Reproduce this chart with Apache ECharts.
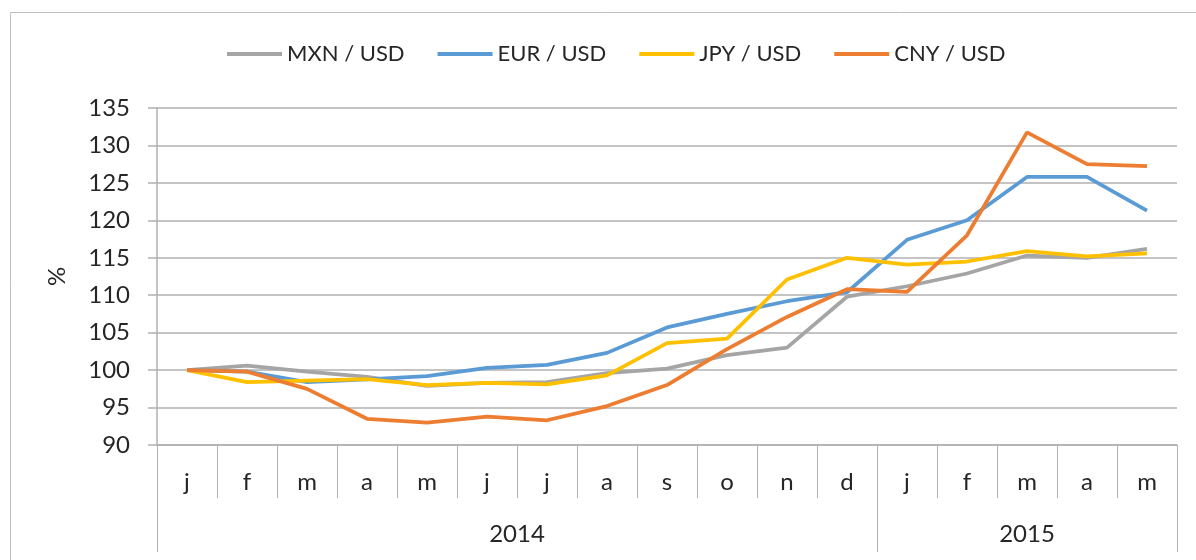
<!DOCTYPE html>
<html>
<head>
<meta charset="utf-8">
<script src="https://cdn.jsdelivr.net/npm/echarts@6/dist/echarts.min.js"></script>
<style>
  html, body { margin: 0; padding: 0; background: #fff; }
  #chart { width: 1196px; height: 560px; }
</style>
</head>
<body>
<div id="chart"></div>
<script>
var months = ['j', 'f', 'm', 'a', 'm', 'j', 'j', 'a', 's', 'o', 'n', 'd', 'j', 'f', 'm', 'a', 'm'];
var years = ['2014', '2015'];
var monthsPerYear = [12, 5];

var mxn = [100, 100.6, 99.8, 99.1, 97.9, 98.3, 98.4, 99.6, 100.2, 102.0, 103.0, 109.8, 111.2, 112.9, 115.3, 115.0, 116.2];
var eur = [100, 99.8, 98.4, 98.75, 99.2, 100.3, 100.7, 102.3, 105.7, 107.5, 109.2, 110.4, 117.4, 120.0, 125.8, 125.8, 121.3];
var jpy = [100, 98.4, 98.6, 98.8, 98.0, 98.3, 98.1, 99.3, 103.6, 104.2, 112.1, 115.0, 114.1, 114.5, 115.9, 115.2, 115.6];
var cny = [100, 99.8, 97.5, 93.5, 93.0, 93.8, 93.3, 95.2, 98.0, 102.8, 107.1, 110.8, 110.45, 118.0, 131.75, 127.5, 127.25];

var names = ['MXN / USD', 'EUR / USD', 'JPY / USD', 'CNY / USD'];
var colors = ['#a5a5a5', '#5b9bd5', '#ffc000', '#ed7d31'];

// year row: half-month points, label at the middle of each year, ticks at year edges
var yearSlots = [];
var yearEdges = [0];
var yearMids = [];
var pos = 0;
for (var i = 0; i < years.length; i++) {
    yearMids.push(pos + monthsPerYear[i]);
    pos += monthsPerYear[i] * 2;
    yearEdges.push(pos);
}
for (var k = 0; k <= pos; k++) {
    var idx = yearMids.indexOf(k);
    yearSlots.push(idx >= 0 ? years[idx] : '');
}

var font = 'Lato, "Open Sans", sans-serif';
var txt = '#262626';
var lineGray = '#b0b0b0';

var chart = echarts.init(document.getElementById('chart'));

var option = {
    animation: false,
    color: colors,
    graphic: [{
        type: 'rect',
        shape: { x: 10.5, y: 12.5, width: 1200, height: 600 },
        style: { fill: 'none', stroke: '#c0c0c0', lineWidth: 1 },
        silent: true
    }],
    legend: {
        data: names,
        left: 222,
        top: 38,
        icon: 'rect',
        itemWidth: 55,
        itemHeight: 4,
        itemGap: 33,
        textStyle: { fontFamily: font, fontSize: 22, color: txt }
    },
    grid: { left: 157, right: 19, top: 108, bottom: 115 },
    xAxis: [
        {
            type: 'category',
            data: months,
            position: 'bottom',
            boundaryGap: true,
            axisLine: { show: true, lineStyle: { color: lineGray, width: 1.5 } },
            axisTick: { show: true, interval: 0, length: 53, lineStyle: { color: lineGray, width: 1 } },
            axisLabel: {
                interval: 0, margin: 37, verticalAlign: 'middle',
                fontFamily: font, fontSize: 24, color: txt
            },
            splitLine: { show: false }
        },
        {
            type: 'category',
            data: yearSlots,
            position: 'bottom',
            boundaryGap: false,
            axisLine: { show: false },
            axisTick: {
                show: true, length: 107,
                interval: function (index) { return yearEdges.indexOf(index) >= 0; },
                lineStyle: { color: lineGray, width: 1 }
            },
            axisLabel: {
                interval: function (index) { return yearMids.indexOf(index) >= 0; },
                margin: 89, verticalAlign: 'middle',
                fontFamily: font, fontSize: 24, color: txt
            },
            splitLine: { show: false }
        }
    ],
    yAxis: {
        type: 'value',
        min: 90,
        max: 135,
        interval: 5,
        name: '%',
        nameLocation: 'middle',
        nameGap: 88,
        nameRotate: 90,
        nameTextStyle: { fontFamily: font, fontSize: 24, color: txt },
        axisLine: { show: true, lineStyle: { color: lineGray, width: 1.5 } },
        axisTick: { show: true, length: 9, lineStyle: { color: lineGray, width: 1.5 } },
        axisLabel: { margin: 27, fontFamily: font, fontSize: 24, color: txt },
        splitLine: { show: true, lineStyle: { color: lineGray, width: 1.5 } }
    },
    series: [
        { name: names[0], type: 'line', data: mxn },
        { name: names[1], type: 'line', data: eur },
        { name: names[2], type: 'line', data: jpy },
        { name: names[3], type: 'line', data: cny }
    ].map(function (s) {
        s.xAxisIndex = 0;
        s.showSymbol = false;
        s.symbol = 'none';
        s.lineStyle = { width: 3.75 };
        return s;
    })
};

chart.setOption(option);
</script>
</body>
</html>
